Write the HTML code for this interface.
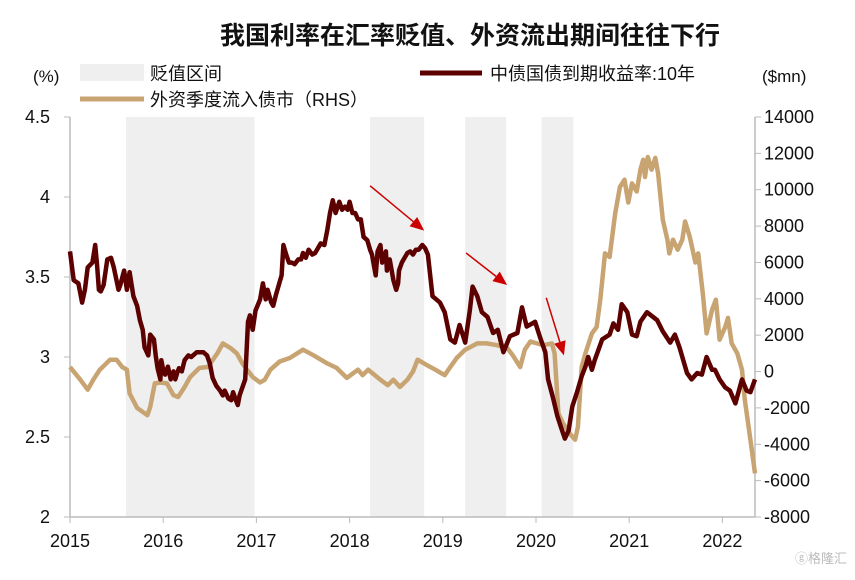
<!DOCTYPE html>
<html><head><meta charset="utf-8"><style>
body{margin:0;background:#fff}
svg text{font-family:"Liberation Sans","Noto Sans CJK SC",sans-serif}
</style></head><body>
<svg id="chart" width="855" height="575" xmlns="http://www.w3.org/2000/svg">
<text x="470" y="44" text-anchor="middle" font-size="25" font-weight="bold" fill="#111">我国利率在汇率贬值、外资流出期间往往下行</text>
<g id="bands"></g>
<g id="axes"></g>
<g id="series"></g>
<g>
<rect x="80" y="64" width="64" height="17" fill="#efefef"/>
<text x="150" y="80" font-size="18" fill="#111">贬值区间</text>
<line x1="420" y1="73" x2="482" y2="73" stroke="#5c0000" stroke-width="5"/>
<text x="490" y="80" font-size="18" fill="#111">中债国债到期收益率:10年</text>
<line x1="80" y1="99" x2="144" y2="99" stroke="#c8a473" stroke-width="5"/>
<text x="150" y="106" font-size="18" fill="#111">外资季度流入债市（RHS）</text>
</g>
<text x="33" y="82" font-size="17" fill="#111">(%)</text>
<text x="762" y="82" font-size="17" fill="#111">($mn)</text>
<text x="795" y="563" font-size="13" fill="#bbb">ⓖ格隆汇</text>
</svg>
<script>
const bandStarts=[2015.6,2018.22,2019.24,2020.06];
const bandEnds=[2016.98,2018.8,2019.68,2020.4];
const yearTicks=[2015,2016,2017,2018,2019,2020,2021,2022];
const leftTicks=[2,2.5,3,3.5,4,4.5];
const leftTickLabels=["2","2.5","3","3.5","4","4.5"];
const rightTicks=[-8000,-6000,-4000,-2000,0,2000,4000,6000,8000,10000,12000,14000];
const yieldDates=[2015.00,2015.04,2015.09,2015.13,2015.16,2015.19,2015.24,2015.27,2015.29,2015.31,2015.33,2015.36,2015.40,2015.44,2015.47,2015.52,2015.54,2015.58,2015.61,2015.64,2015.68,2015.72,2015.75,2015.78,2015.80,2015.84,2015.86,2015.90,2015.92,2015.94,2015.97,2015.98,2016.00,2016.02,2016.05,2016.08,2016.11,2016.13,2016.15,2016.17,2016.20,2016.23,2016.27,2016.30,2016.36,2016.43,2016.47,2016.50,2016.53,2016.57,2016.61,2016.64,2016.66,2016.70,2016.73,2016.75,2016.78,2016.80,2016.82,2016.85,2016.88,2016.91,2016.93,2016.96,2016.99,2017.04,2017.07,2017.10,2017.12,2017.16,2017.18,2017.21,2017.24,2017.27,2017.29,2017.32,2017.35,2017.38,2017.41,2017.45,2017.48,2017.50,2017.53,2017.56,2017.60,2017.63,2017.66,2017.69,2017.73,2017.76,2017.79,2017.82,2017.85,2017.89,2017.92,2017.95,2017.98,2018.00,2018.03,2018.06,2018.09,2018.12,2018.15,2018.19,2018.22,2018.24,2018.28,2018.30,2018.33,2018.35,2018.39,2018.40,2018.43,2018.47,2018.50,2018.52,2018.53,2018.56,2018.59,2018.62,2018.65,2018.68,2018.71,2018.74,2018.78,2018.81,2018.84,2018.89,2018.97,2019.02,2019.08,2019.13,2019.18,2019.24,2019.29,2019.32,2019.37,2019.42,2019.48,2019.54,2019.59,2019.65,2019.72,2019.80,2019.85,2019.90,2019.99,2020.04,2020.10,2020.13,2020.18,2020.23,2020.28,2020.31,2020.35,2020.39,2020.44,2020.49,2020.53,2020.56,2020.60,2020.63,2020.71,2020.79,2020.83,2020.88,2020.92,2020.98,2021.03,2021.08,2021.12,2021.19,2021.30,2021.36,2021.44,2021.49,2021.54,2021.62,2021.67,2021.73,2021.78,2021.83,2021.89,2021.92,2021.97,2022.03,2022.08,2022.14,2022.21,2022.26,2022.30,2022.35];
const yieldValues=[3.66,3.48,3.46,3.34,3.42,3.56,3.59,3.70,3.58,3.42,3.41,3.45,3.61,3.62,3.56,3.42,3.45,3.54,3.42,3.53,3.38,3.32,3.23,3.17,3.06,3.01,3.14,3.11,3.01,2.93,2.86,2.98,2.92,2.89,2.94,2.86,2.91,2.86,2.90,2.93,2.91,2.98,3.01,3.00,3.03,3.03,3.01,2.96,2.87,2.82,2.79,2.76,2.79,2.74,2.73,2.78,2.73,2.70,2.76,2.81,2.86,3.22,3.26,3.17,3.29,3.36,3.46,3.36,3.42,3.34,3.32,3.39,3.45,3.51,3.70,3.64,3.59,3.59,3.58,3.61,3.61,3.65,3.62,3.67,3.64,3.65,3.68,3.71,3.70,3.79,3.90,3.98,3.90,3.97,3.92,3.94,3.92,3.97,3.90,3.90,3.86,3.86,3.75,3.73,3.67,3.64,3.51,3.66,3.70,3.59,3.66,3.54,3.61,3.48,3.42,3.46,3.54,3.59,3.62,3.65,3.66,3.64,3.67,3.67,3.70,3.68,3.64,3.38,3.34,3.28,3.11,3.09,3.20,3.09,3.29,3.44,3.38,3.28,3.25,3.15,3.17,3.03,3.13,3.15,3.31,3.19,3.22,3.13,3.03,2.86,2.75,2.63,2.54,2.49,2.54,2.69,2.78,2.88,2.94,3.00,2.92,2.98,3.11,3.14,3.21,3.17,3.33,3.28,3.14,3.13,3.22,3.28,3.23,3.16,3.09,3.14,3.06,2.90,2.86,2.90,2.89,3.00,2.92,2.92,2.86,2.81,2.79,2.71,2.86,2.79,2.78,2.86];
const flowDates=[2015.00,2015.11,2015.19,2015.25,2015.32,2015.35,2015.43,2015.50,2015.56,2015.61,2015.64,2015.72,2015.83,2015.86,2015.91,2015.97,2016.04,2016.11,2016.16,2016.23,2016.29,2016.39,2016.48,2016.58,2016.64,2016.72,2016.79,2016.85,2016.90,2016.96,2017.04,2017.09,2017.15,2017.25,2017.36,2017.50,2017.61,2017.76,2017.86,2017.97,2018.09,2018.14,2018.20,2018.33,2018.41,2018.47,2018.54,2018.62,2018.68,2018.73,2018.83,2018.92,2019.02,2019.08,2019.15,2019.24,2019.37,2019.47,2019.58,2019.69,2019.75,2019.83,2019.88,2019.94,2020.01,2020.08,2020.17,2020.20,2020.24,2020.29,2020.36,2020.42,2020.45,2020.49,2020.53,2020.60,2020.65,2020.69,2020.74,2020.79,2020.85,2020.90,2020.95,2020.99,2021.03,2021.08,2021.12,2021.15,2021.17,2021.20,2021.24,2021.28,2021.31,2021.36,2021.41,2021.43,2021.47,2021.52,2021.57,2021.60,2021.65,2021.71,2021.74,2021.79,2021.83,2021.89,2021.93,2021.97,2022.03,2022.06,2022.10,2022.16,2022.21,2022.24,2022.30,2022.35];
const flowValues=[250,-450,-1000,-450,100,250,650,650,250,100,-1200,-2000,-2400,-1950,-650,-600,-650,-1300,-1400,-850,-300,200,250,1000,1550,1300,1000,450,100,-300,-600,-450,100,550,750,1200,900,450,200,-350,100,-200,100,-450,-750,-450,-850,-450,0,650,350,100,-200,250,750,1200,1550,1550,1450,1300,900,250,1200,1650,1550,1450,1550,1000,-2300,-2850,-3400,-3750,-3050,250,1000,2100,2450,3950,6500,6300,8700,10150,10550,9300,10350,9900,11100,11650,10700,11800,11100,11750,10900,8350,7250,6500,7250,6700,7250,8250,7400,6000,6500,4300,2100,3400,3950,1750,2450,2950,1550,1000,100,-1550,-3750,-5600];
const arrowsFrom=[[2018.22,4.07],[2019.25,3.65],[2020.11,3.37]];
const arrowsTo=[[2018.8,3.79],[2019.69,3.45],[2020.3,3.01]];

const X0=70,X1=755,YT=117,YB=517;
const xs=d=>X0+(d-2015)*93.2;
const yl=v=>YB-(v-2)/2.5*(YB-YT);
const yr=v=>YB-(v+8000)/22000*(YB-YT);
const NS="http://www.w3.org/2000/svg";
function mk(tag,attrs,parent){const e=document.createElementNS(NS,tag);for(const k in attrs)e.setAttribute(k,attrs[k]);document.getElementById(parent).appendChild(e);return e;}

bandStarts.forEach((s,i)=>{
 const r=mk('rect',{x:xs(s),y:YT,width:xs(bandEnds[i])-xs(s),height:YB-YT,fill:'#efefef'},'bands');
 
 
});
let a=mk('line',{x1:X0,y1:YT,x2:X0,y2:YB,stroke:'#bbb','stroke-width':1.5},'axes');

a=mk('line',{x1:X1,y1:YT,x2:X1,y2:YB,stroke:'#bbb','stroke-width':1.5},'axes');

a=mk('line',{x1:X0,y1:YB,x2:X1,y2:YB,stroke:'#bbb','stroke-width':1.5},'axes');

leftTicks.forEach((v,i)=>{
 const t=mk('line',{x1:X0-6,y1:yl(v),x2:X0,y2:yl(v),stroke:'#bbb'},'axes');
 
 const l=mk('text',{x:50,y:yl(v)+6,'text-anchor':'end','font-size':18,fill:'#111'},'axes');
 l.textContent=leftTickLabels[i];
 
});
rightTicks.forEach(v=>{
 const t=mk('line',{x1:X1,y1:yr(v),x2:X1+6,y2:yr(v),stroke:'#bbb'},'axes');
 
 const l=mk('text',{x:764,y:yr(v)+6,'font-size':18,fill:'#111'},'axes');
 l.textContent=String(v);
 
});
yearTicks.forEach(y=>{
 const t=mk('line',{x1:xs(y),y1:YB,x2:xs(y),y2:YB+6,stroke:'#bbb'},'axes');
 
 const l=mk('text',{x:xs(y),y:YB+30,'text-anchor':'middle','font-size':18,fill:'#111'},'axes');
 l.textContent=String(y);
 
});
const fp=flowDates.map((d,i)=>xs(d).toFixed(1)+','+yr(flowValues[i]).toFixed(1)).join(' ');
const f=mk('polyline',{points:fp,fill:'none',stroke:'#c8a473','stroke-width':4.5,'stroke-linejoin':'round'},'series');

const yp=yieldDates.map((d,i)=>xs(d).toFixed(1)+','+yl(yieldValues[i]).toFixed(1)).join(' ');
const yline=mk('polyline',{points:yp,fill:'none',stroke:'#5c0000','stroke-width':4.5,'stroke-linejoin':'round'},'series');

arrowsFrom.forEach((p,i)=>{
 const x1=xs(p[0]),y1=yl(p[1]),x2=xs(arrowsTo[i][0]),y2=yl(arrowsTo[i][1]);
 const ang=Math.atan2(y2-y1,x2-x1),L=14,W=6;
 const bx=x2-L*Math.cos(ang),by=y2-L*Math.sin(ang);
 const g=mk('g',{},'series');
 
 const ln=document.createElementNS(NS,'line');
 ln.setAttribute('x1',x1);ln.setAttribute('y1',y1);ln.setAttribute('x2',bx);ln.setAttribute('y2',by);
 ln.setAttribute('stroke','#cc0000');ln.setAttribute('stroke-width',1.5);g.appendChild(ln);
 const hd=document.createElementNS(NS,'polygon');
 hd.setAttribute('points',`${x2},${y2} ${bx+W*Math.sin(ang)},${by-W*Math.cos(ang)} ${bx-W*Math.sin(ang)},${by+W*Math.cos(ang)}`);
 hd.setAttribute('fill','#cc0000');g.appendChild(hd);
});
</script>
</body></html>
